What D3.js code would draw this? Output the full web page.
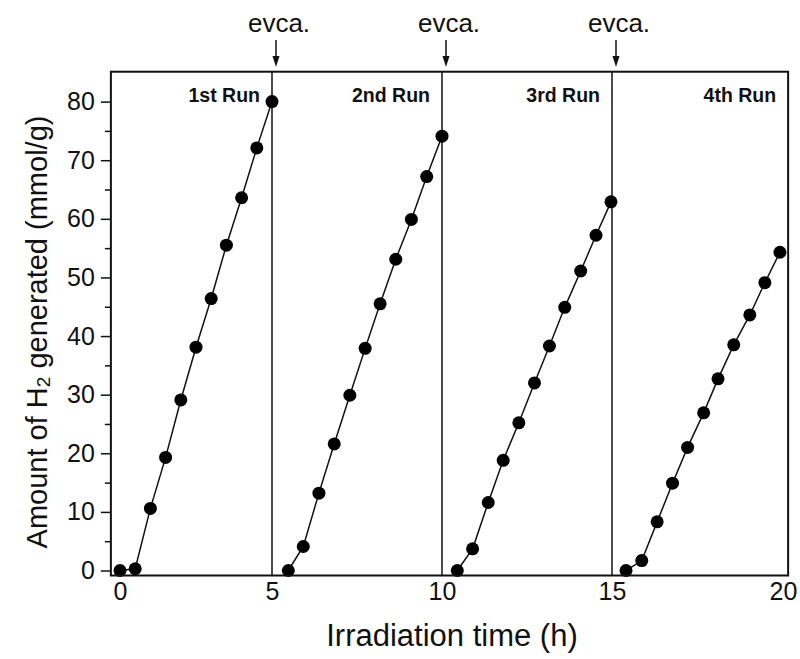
<!DOCTYPE html>
<html><head><meta charset="utf-8">
<script src="https://cdn.jsdelivr.net/npm/d3@7"></script>
<style>body{margin:0;background:#fff} svg{display:block} text{font-family:"Liberation Sans",Arial,sans-serif;fill:#111}</style>
</head><body><svg id="c" width="800" height="659"></svg>
<script>
const runLabels = ["1st Run","2nd Run","3rd Run","4th Run"];
const run1Time = [0,0.5,1,1.5,2,2.5,3,3.5,4,4.5,5];
const run1H2   = [0,0.3,10.6,19.3,29.1,38.1,46.4,55.5,63.6,72.1,80];
const run2Time = [5.48,5.92,6.38,6.83,7.29,7.74,8.18,8.64,9.1,9.55,10];
const run2H2   = [0,4.1,13.2,21.6,29.9,37.9,45.5,53.1,59.9,67.2,74.1];
const run3Time = [10.45,10.9,11.36,11.8,12.26,12.72,13.16,13.61,14.08,14.53,14.97];
const run3H2   = [0,3.7,11.6,18.8,25.2,32.0,38.3,44.9,51.1,57.2,62.9];
const run4Time = [15.41,15.87,16.32,16.77,17.21,17.68,18.1,18.56,19.03,19.47,19.91];
const run4H2   = [0,1.7,8.3,14.9,21.0,26.9,32.7,38.5,43.6,49.1,54.3];
const evacTimes = [5,10,15];
const evacLabel = "evca.";
const xTicks = [0,5,10,15,20];
const yTicks = [0,10,20,30,40,50,60,70,80];
const yMinor = [5,15,25,35,45,55,65,75];
const xTitle = "Irradiation time (h)";

const svg = d3.select("#c");
const x = d3.scaleLinear().domain([0,5,10,15,20]).range([120,272,442,612,783]);
const y = d3.scaleLinear().domain([-0.85,85.1]).range([575.5,71.7]);
const xMin = -0.3, xMax = 20.15;

const runs = [[run1Time,run1H2],[run2Time,run2H2],[run3Time,run3H2],[run4Time,run4H2]]
  .map(([t,v]) => t.map((d,i)=>({t:d,v:v[i]})));
const runEnds = [5,10,15,xMax];

// separators
svg.selectAll("line.sep").data(evacTimes).join("line").attr("class","sep")
  .attr("x1",d=>x(d)).attr("x2",d=>x(d)).attr("y1",y(85.1)).attr("y2",y(-0.85))
  .attr("stroke","#111").attr("stroke-width",1.5);

// lines + points
const line = d3.line().x(d=>x(d.t)).y(d=>y(d.v));
svg.selectAll("path.run").data(runs).join("path").attr("class","run")
  .attr("d",line).attr("fill","none").attr("stroke","#111").attr("stroke-width",1.5);
runs.forEach(r=>{
  svg.append("g").selectAll("circle").data(r).join("circle")
    .attr("cx",d=>x(d.t)).attr("cy",d=>y(d.v)).attr("r",6.5).attr("fill","#000");
});

// frame
svg.append("rect").attr("x",x(xMin)).attr("y",y(85.1))
  .attr("width",x(xMax)-x(xMin)).attr("height",y(-0.85)-y(85.1))
  .attr("fill","none").attr("stroke","#111").attr("stroke-width",2);

// y axis
const yAxis = svg.append("g").attr("transform",`translate(${x(xMin)},0)`)
  .call(d3.axisLeft(y).tickValues(yTicks).tickSize(10).tickPadding(6));
yAxis.select(".domain").remove();
yAxis.selectAll("line").attr("stroke","#111").attr("stroke-width",1.5);
yAxis.selectAll("text").attr("font-size",25).attr("font-family","Liberation Sans, Arial, sans-serif").attr("fill","#111");
const yAxisMinor = svg.append("g").attr("transform",`translate(${x(xMin)},0)`)
  .call(d3.axisLeft(y).tickValues(yMinor).tickSize(6).tickFormat(""));
yAxisMinor.select(".domain").remove();
yAxisMinor.selectAll("line").attr("stroke","#111").attr("stroke-width",1.5);

// x axis labels (no tick marks)
const xAxis = svg.append("g").attr("transform",`translate(0,${y(-0.85)})`)
  .call(d3.axisBottom(x).tickValues(xTicks).tickSize(0).tickPadding(7).tickFormat(d3.format("d")));
xAxis.select(".domain").remove();
xAxis.selectAll("text").attr("font-size",25).attr("font-family","Liberation Sans, Arial, sans-serif").attr("fill","#111");

// run labels
svg.selectAll("text.run").data(runLabels).join("text").attr("class","run")
  .attr("x",(d,i)=>x(runEnds[i])-12).attr("y",102)
  .attr("text-anchor","end").attr("font-weight","bold").attr("font-size",19.5).text(d=>d);

// evac arrows
const ev = svg.append("g");
evacTimes.forEach(t=>{
  const ax = x(t)+4;
  ev.append("line").attr("x1",ax).attr("x2",ax).attr("y1",40).attr("y2",60).attr("stroke","#111").attr("stroke-width",1.5);
  ev.append("path").attr("d",`M${ax-3.5},${56} L${ax+3.5},${56} L${ax},${67} Z`).attr("fill","#111");
  ev.append("text").attr("x",ax+3).attr("y",32).attr("text-anchor","middle").attr("font-size",26).text(evacLabel);
});

// axis titles
svg.append("text").attr("x",452).attr("y",646).attr("text-anchor","middle").attr("font-size",31).text(xTitle);
const yt = svg.append("text").attr("transform","translate(47,332) rotate(-90)").attr("text-anchor","middle").attr("font-size",29);
yt.append("tspan").text("Amount of H");
yt.append("tspan").attr("font-size",19).attr("dy",3).text("2");
yt.append("tspan").attr("dy",-3).text(" generated (mmol/g)");
</script></body></html>
